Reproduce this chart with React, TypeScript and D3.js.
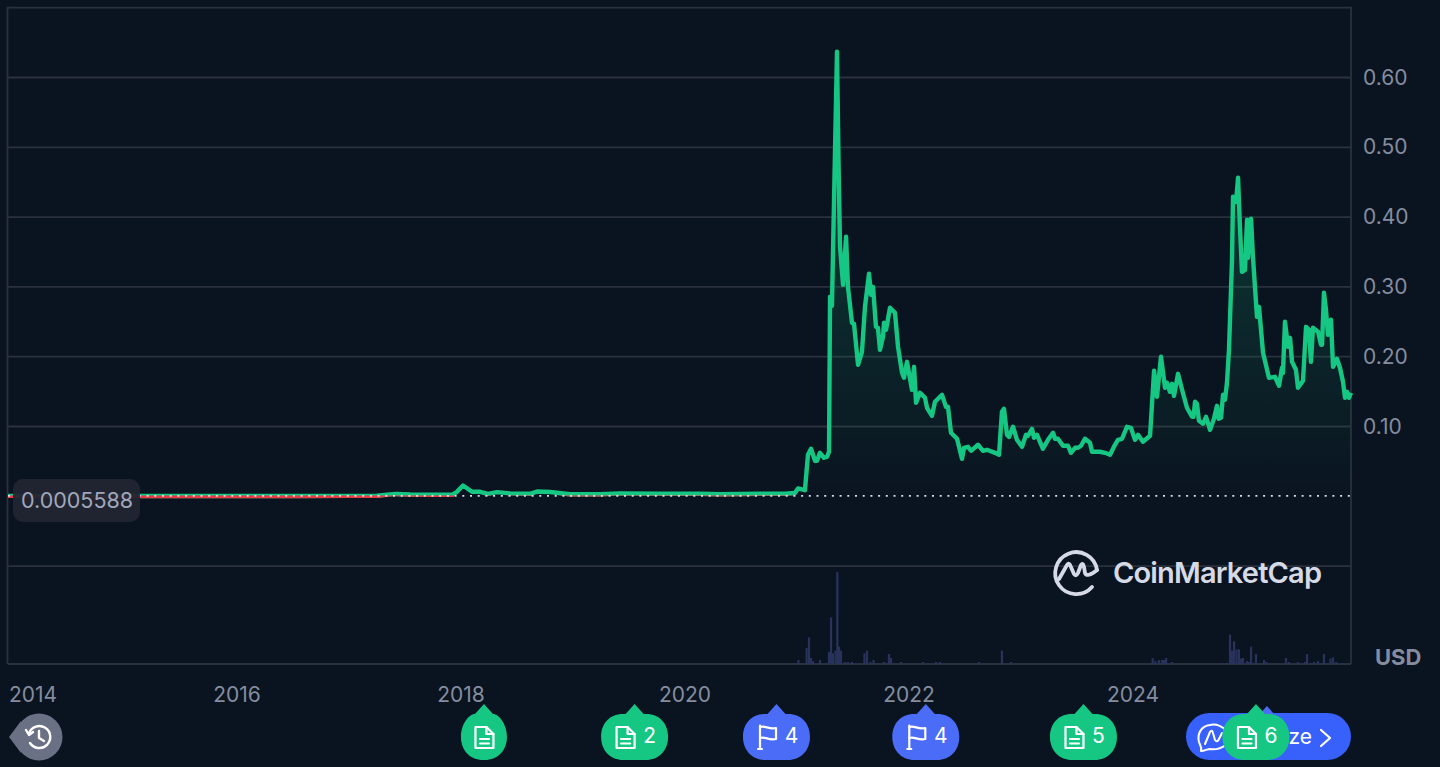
import React from 'react'
import * as d3 from 'd3'

// [decimal year, price in USD]
const flatEra: [number, number][] = [
  [2013.955, 0.0006], [2014.5, 0.0006], [2015.0, 0.0005], [2015.5, 0.0005], [2016.0, 0.0005], [2016.5, 0.0005],
  [2017.0, 0.0006], [2017.25, 0.0007], [2017.366, 0.0028], [2017.42, 0.0034], [2017.545, 0.0026], [2017.723, 0.0022],
  [2017.92, 0.0022], [2017.964, 0.0065], [2018.018, 0.0155], [2018.063, 0.0105], [2018.098, 0.0065], [2018.17, 0.0065],
  [2018.241, 0.0035], [2018.321, 0.006], [2018.438, 0.0042], [2018.616, 0.0036], [2018.679, 0.0068], [2018.795, 0.0062],
  [2018.973, 0.003], [2019.241, 0.003], [2019.42, 0.0042], [2019.777, 0.0036], [2020.134, 0.0036], [2020.313, 0.003],
  [2020.67, 0.0036], [2020.893, 0.0036], [2020.982, 0.0048]
]

const bull2021: [number, number][] = [
  [2021.009, 0.0112], [2021.071, 0.0088], [2021.098, 0.0595], [2021.125, 0.0681], [2021.161, 0.0509], [2021.179, 0.0509],
  [2021.205, 0.0623], [2021.241, 0.0552], [2021.268, 0.0566], [2021.286, 0.0638], [2021.295, 0.2858], [2021.312, 0.2729],
  [2021.357, 0.6368], [2021.371, 0.4778], [2021.384, 0.3575], [2021.411, 0.303], [2021.438, 0.3718], [2021.455, 0.3001],
  [2021.491, 0.2486], [2021.509, 0.2471], [2021.545, 0.1884], [2021.58, 0.207], [2021.607, 0.2715], [2021.643, 0.3188],
  [2021.661, 0.2887], [2021.679, 0.3001], [2021.705, 0.2428], [2021.723, 0.2414], [2021.741, 0.2099], [2021.768, 0.2285],
  [2021.777, 0.2486], [2021.795, 0.2385], [2021.83, 0.2701], [2021.875, 0.2629], [2021.902, 0.2142], [2021.938, 0.1769],
  [2021.955, 0.1698], [2021.982, 0.1927]
]

const slump2022: [number, number][] = [
  [2022.027, 0.1526], [2022.045, 0.1855], [2022.063, 0.134], [2022.098, 0.1483], [2022.143, 0.1411], [2022.161, 0.1268],
  [2022.205, 0.1153], [2022.232, 0.1354], [2022.295, 0.1454], [2022.33, 0.1282], [2022.348, 0.1282], [2022.375, 0.091],
  [2022.429, 0.0824], [2022.473, 0.0537], [2022.491, 0.0695], [2022.527, 0.0709], [2022.554, 0.0652], [2022.616, 0.0738],
  [2022.661, 0.0652], [2022.696, 0.0666], [2022.768, 0.0623], [2022.804, 0.0595], [2022.83, 0.1211], [2022.848, 0.1254],
  [2022.875, 0.0881], [2022.893, 0.0852], [2022.929, 0.0996], [2022.964, 0.0809]
]

const flat2023: [number, number][] = [
  [2023.009, 0.0709], [2023.045, 0.0881], [2023.063, 0.0867], [2023.098, 0.0967], [2023.116, 0.0838], [2023.143, 0.0881],
  [2023.196, 0.0681], [2023.241, 0.0809], [2023.286, 0.091], [2023.304, 0.0824], [2023.33, 0.0824], [2023.375, 0.0724],
  [2023.42, 0.0724], [2023.446, 0.0623], [2023.482, 0.0695], [2023.509, 0.0695], [2023.536, 0.0724], [2023.571, 0.0824],
  [2023.616, 0.0767], [2023.634, 0.0638], [2023.705, 0.0638], [2023.75, 0.0623], [2023.795, 0.0595], [2023.839, 0.0738],
  [2023.866, 0.0809], [2023.902, 0.0824], [2023.946, 0.0996], [2023.982, 0.0981]
]

const rally2024: [number, number][] = [
  [2024.018, 0.0809], [2024.045, 0.0881], [2024.089, 0.0781], [2024.152, 0.0867], [2024.188, 0.1798], [2024.214, 0.1425],
  [2024.25, 0.1999], [2024.286, 0.1555], [2024.304, 0.1626], [2024.33, 0.1497], [2024.348, 0.1612], [2024.366, 0.144],
  [2024.402, 0.1755], [2024.438, 0.1526], [2024.482, 0.1268], [2024.527, 0.1139], [2024.54, 0.1139], [2024.554, 0.1354],
  [2024.571, 0.1325], [2024.589, 0.1082], [2024.625, 0.1039], [2024.652, 0.1139], [2024.688, 0.0953], [2024.723, 0.111],
  [2024.75, 0.1297], [2024.764, 0.111], [2024.786, 0.1125], [2024.804, 0.1454], [2024.821, 0.1383], [2024.839, 0.1626],
  [2024.857, 0.2099], [2024.884, 0.3388], [2024.893, 0.4291], [2024.92, 0.4219], [2024.938, 0.4563], [2024.955, 0.3861],
  [2024.973, 0.3216]
]

const recent2025: [number, number][] = [
  [2025.0, 0.3245], [2025.018, 0.3962], [2025.027, 0.3417], [2025.054, 0.3976], [2025.071, 0.3431], [2025.107, 0.2572],
  [2025.125, 0.2715], [2025.161, 0.2056], [2025.214, 0.1698], [2025.268, 0.1712], [2025.304, 0.1583], [2025.33, 0.1841],
  [2025.339, 0.1769], [2025.357, 0.25], [2025.384, 0.2142], [2025.402, 0.2271], [2025.42, 0.1927], [2025.455, 0.1812],
  [2025.473, 0.1555], [2025.518, 0.1655], [2025.545, 0.2428], [2025.571, 0.2385], [2025.589, 0.1927], [2025.607, 0.2414],
  [2025.652, 0.2357], [2025.679, 0.2171], [2025.688, 0.2171], [2025.705, 0.2916], [2025.723, 0.2672], [2025.741, 0.2314],
  [2025.768, 0.2529], [2025.786, 0.1855], [2025.821, 0.197], [2025.848, 0.1841], [2025.875, 0.164], [2025.893, 0.1411],
  [2025.911, 0.1497], [2025.929, 0.1411], [2025.946, 0.1483]
]

// [decimal year, volume in USD billions]
const volumes2021: [number, number][] = [
  [2021.013, 3], [2021.086, 12], [2021.107, 20], [2021.125, 4.5], [2021.143, 2.2], [2021.205, 3], [2021.286, 9],
  [2021.304, 35], [2021.321, 8], [2021.344, 10], [2021.36, 69], [2021.375, 13], [2021.393, 10], [2021.429, 1.5],
  [2021.455, 1.5], [2021.491, 1.5], [2021.602, 8], [2021.625, 10], [2021.657, 1.5], [2021.684, 3], [2021.777, 1.5],
  [2021.821, 7.5], [2021.839, 4.5], [2021.929, 1.5]
]

const volumes2022: [number, number][] = [
  [2022.125, 1.5], [2022.241, 1.5], [2022.277, 1.5], [2022.625, 1.5], [2022.83, 10], [2022.911, 1.5]
]

const volumes2024: [number, number][] = [
  [2024.176, 4.5], [2024.201, 2.2], [2024.232, 3], [2024.259, 3], [2024.277, 3], [2024.295, 4.5], [2024.348, 1.5],
  [2024.804, 0.8], [2024.839, 0.8], [2024.866, 22], [2024.884, 10], [2024.902, 17], [2024.924, 11], [2024.946, 11],
  [2024.964, 4]
]

const volumes2025: [number, number][] = [
  [2024.982, 4.5], [2025.018, 2.2], [2025.036, 1.5], [2025.054, 13], [2025.098, 7.5], [2025.17, 3], [2025.192, 1.5],
  [2025.366, 4.5], [2025.393, 1.5], [2025.473, 1.5], [2025.536, 1.5], [2025.554, 7.5], [2025.616, 1.5], [2025.652, 2.2],
  [2025.705, 7.5], [2025.763, 4], [2025.786, 5], [2025.813, 1.5], [2025.866, 0.8]
]

const yearTicks = [2014, 2016, 2018, 2020, 2022, 2024]
const priceTicks = [0.1, 0.2, 0.3, 0.4, 0.5, 0.6]
const gridTicks = [-0.1, 0.1, 0.2, 0.3, 0.4, 0.5, 0.6, 0.7]
const basePrice = 0.0005588

const eventYears = [2018.205, 2019.55, 2020.817, 2022.15, 2023.558, 2025.098]
const eventCounts = [1, 2, 4, 4, 5, 6]
const eventKinds = ['doc', 'doc', 'flag', 'flag', 'doc', 'doc']

const prices = [...flatEra, ...bull2021, ...slump2022, ...flat2023, ...rally2024, ...recent2025]
const volumes = [...volumes2021, ...volumes2022, ...volumes2024, ...volumes2025]

const BG = '#0a1420'
const GRID = '#2a303d'
const MUTED = '#858c9f'
const GREEN = '#16c784'
const PIN_BLUE = '#4a6cf7'

const left = 8
const right = 1351
const bottom = 664

const x = d3.scaleLinear().domain([2018, 2020]).range([461, 685])
const y = d3.scaleLinear().domain([0, 0.6]).range([496.3, 77.5])
const yVol = d3.scaleLinear().domain([0, 69]).range([bottom, 572])

const line = d3.line<[number, number]>().x(d => x(d[0])).y(d => y(d[1]))
const area = d3.area<[number, number]>().x(d => x(d[0])).y0(y(basePrice)).y1(d => y(d[1]))

const pinPath = (cx: number, w: number) => {
  const top = 714
  const bot = 760
  const mid = 737
  const tip = 704
  const h = w / 2
  const f = Math.max(h - 22, 0)
  return `M${cx},${tip} L${cx + 9},${top} L${cx + Math.max(f, 9)},${top}
    C${cx + h - 8},${top} ${cx + h},${mid - 13} ${cx + h},${mid}
    C${cx + h},${mid + 14} ${cx + h - 10},${bot} ${cx + f},${bot}
    L${cx - f},${bot}
    C${cx - h + 10},${bot} ${cx - h},${mid + 14} ${cx - h},${mid}
    C${cx - h},${mid - 13} ${cx - h + 8},${top} ${cx - Math.max(f, 9)},${top}
    L${cx - 9},${top} Z`
}

const DocIcon = ({ cx }: { cx: number }) => (
  <g transform={`translate(${cx - 9.5},${726})`} fill="none" stroke="#fff" strokeWidth={2.2} strokeLinejoin="round" strokeLinecap="round">
    <path d="M1,1 H12 L19,8 V22 H1 Z" />
    <path d="M12,1 V8 H19" />
    <path d="M5.5,13 H14.5 M5.5,17.5 H14.5" />
  </g>
)

const FlagIcon = ({ cx }: { cx: number }) => (
  <g transform={`translate(${cx - 9},${725})`} fill="none" stroke="#fff" strokeWidth={2.2} strokeLinejoin="round" strokeLinecap="round">
    <path d="M2,0.5 V24 M0,24 H4" />
    <path d="M2,2 C7,0 11,5 18,3 V14 C11,16 7,11 2,13" />
  </g>
)

export default function App() {
  return (
    <div style={{ position: 'absolute', left: 0, top: 0 }}>
      <svg width={1440} height={767} style={{ display: 'block' }} fontFamily="Inter, sans-serif">
        <defs>
          <linearGradient id="areaFill" gradientUnits="userSpaceOnUse" x1={0} y1={52} x2={0} y2={y(0)}>
            <stop offset="0" stopColor={GREEN} stopOpacity={0.28} />
            <stop offset="1" stopColor={GREEN} stopOpacity={0} />
          </linearGradient>
          <clipPath id="belowBase">
            <rect x={left} y={y(basePrice) - 0.5} width={right - left} height={20} />
          </clipPath>
        </defs>
        <rect width={1440} height={767} fill={BG} />

        {gridTicks.map(t => (
          <line key={t} x1={left} x2={right} y1={y(t)} y2={y(t)} stroke={GRID} strokeWidth={1.8} />
        ))}
        <line x1={left} x2={right} y1={bottom} y2={bottom} stroke={GRID} strokeWidth={2} />
        <line x1={left - 0.5} x2={left - 0.5} y1={y(0.7) - 1} y2={bottom} stroke={GRID} strokeWidth={1.8} />
        <line x1={right} x2={right} y1={y(0.7) - 1} y2={bottom} stroke={GRID} strokeWidth={1.8} />

        {volumes.map(d => (
          <rect key={d[0]} x={x(d[0]) - 1.1} y={yVol(d[1])} width={2.2} height={bottom - yVol(d[1])} fill="#28325a" />
        ))}

        <path d={area(prices) ?? ''} fill="url(#areaFill)" />
        <path d={line(prices) ?? ''} fill="none" stroke={GREEN} strokeWidth={4.4} strokeLinejoin="round" />
        <path d={line(prices) ?? ''} fill="none" stroke="#ea3943" strokeWidth={4.4} clipPath="url(#belowBase)" />
        <line x1={left} x2={right} y1={y(basePrice)} y2={y(basePrice)} stroke="#d8dce6" strokeWidth={1.6} strokeDasharray="2 5.7" />

        <rect x={13} y={479} width={127} height={43} rx={10} fill="#222531" fillOpacity={0.95} />
        <text x={21} y={507.5} fontSize={21.5} fill="#a1a7bb">{basePrice.toFixed(7)}</text>

        {priceTicks.map(t => (
          <text key={t} x={1363} y={y(t) + 7} fontSize={21} fill={MUTED}>{t.toFixed(2)}</text>
        ))}
        <text x={1375} y={664.5} fontSize={22} fontWeight={700} fill={MUTED}>USD</text>

        {yearTicks.map(t => (
          <text key={t} x={Math.max(x(t), 33)} y={701.5} fontSize={21} fill={MUTED} textAnchor="middle">{t}</text>
        ))}

        {/* watermark */}
        <g fill="none" stroke="#d5dae6" strokeWidth={3.8} strokeLinecap="round" strokeLinejoin="round">
          <path d="M1092,587 A21,21 0 1 1 1097,570" />
          <path d="M1059,579 L1067,565 Q1069,562 1070.5,566 L1074,574 Q1076,577 1078,573 L1081,565 Q1083,562 1084,567 L1085,573 Q1087,578 1097,570" />
        </g>
        <text x={1113} y={583} fontSize={29} fontWeight={600} fill="#d5dae6" textLength={209}>CoinMarketCap</text>

        {/* history pin */}
        <path d="M9,737 L21,721 L21,753 Z" fill="#6b7185" />
        <circle cx={39} cy={737} r={23.5} fill="#6b7185" />
        <g fill="none" stroke="#fff" strokeWidth={2.4} strokeLinecap="round" strokeLinejoin="round">
          <path d="M29,733 A11,11 0 1 1 30,743" />
          <path d="M26,730 L29,735 L33,732" />
          <path d="M39,731 V738 L44,741" />
        </g>

        {/* analyze button */}
        <rect x={1186} y={713} width={165} height={47} rx={23.5} fill="#3861fb" />
        <text x={1312} y={744} fontSize={21} fill="#fff" textAnchor="end">Analyze</text>
        <path d="M1321,730 L1330,738 L1321,746" fill="none" stroke="#fff" strokeWidth={2.2} strokeLinecap="round" strokeLinejoin="round" />
        <g fill="none" stroke="#fff" strokeWidth={2} strokeLinecap="round" strokeLinejoin="round">
          <path d="M1226,730 C1220,725 1214,724 1210,725 C1201,726 1197,734 1199,742 C1200,745 1202,747 1201,751 C1205,751 1207,749 1210,749 C1215,750 1220,749 1226,745" />
          <path d="M1205,744 L1210,732 Q1212,729 1213,733 L1215,740 Q1217,743 1219,739 L1222,733" />
        </g>
        <path d={`M${x(2025.196)},706 L${x(2025.196) + 9},716 L${x(2025.196) - 9},716 Z`} fill={PIN_BLUE} />

        {eventYears.map((yr, i) => {
          const cx = x(yr)
          const n = eventCounts[i]
          const w = n > 1 ? 67 : 46
          const iconX = n > 1 ? cx - 9.5 : cx
          return (
            <g key={yr}>
              <path d={pinPath(cx, w)} fill={eventKinds[i] === 'doc' ? GREEN : PIN_BLUE} />
              {eventKinds[i] === 'doc' ? <DocIcon cx={iconX} /> : <FlagIcon cx={iconX} />}
              {n > 1 && <text x={cx + 15} y={742.5} fontSize={21} fill="#fff" textAnchor="middle">{n}</text>}
            </g>
          )
        })}
      </svg>
    </div>
  )
}
